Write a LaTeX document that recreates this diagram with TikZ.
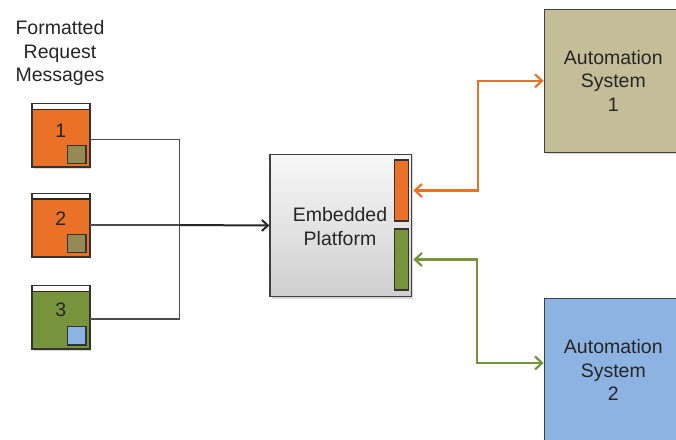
\documentclass[tikz,border=0pt]{standalone}
\usepackage{fontspec}
\setmainfont{Liberation Sans}
\usetikzlibrary{shadows,arrows.meta}
\definecolor{morange}{HTML}{E97228}
\definecolor{mgreen}{HTML}{77933C}
\definecolor{molive}{HTML}{948A54}
\definecolor{mblue}{HTML}{8DB3E2}
\definecolor{mtan}{HTML}{C4BD97}
\definecolor{txt}{HTML}{262626}
\tikzset{
  lbl/.style={font=\fontsize{19.5}{23.5}\selectfont, text=txt, align=center},
  msgbox/.style={draw=black!80, line width=1.3pt, minimum width=56.6pt, minimum height=62.4pt, inner sep=0pt,
     drop shadow={opacity=0.3, shadow xshift=1.5pt, shadow yshift=-2pt}},
  tag/.style={draw=black!80, line width=1.1pt, minimum width=18.3pt, minimum height=18.3pt, inner sep=0pt},
  sysbox/.style={draw=black!75, line width=1.3pt, minimum width=138pt, minimum height=143pt, inner sep=0pt,
     drop shadow={opacity=0.3, shadow xshift=1.5pt, shadow yshift=-2pt}},
  bar/.style={draw=black!80, line width=1.1pt, minimum width=14pt, minimum height=61pt, inner sep=0pt},
  wire/.style={draw=black!70, line width=1.4pt},
  bidir/.style={line width=2.2pt, {Straight Barb[length=7pt,width=13pt]}-{Straight Barb[length=7pt,width=13pt]}},
}
\begin{document}
\begin{tikzpicture}[x=1pt,y=-1pt]
\clip (0,0) rectangle (676,439);
\useasboundingbox (0,0) rectangle (676,439);
\fill[white] (0,0) rectangle (676,439);

\node[lbl] (title) at (60,53) {Formatted\\Request\\Messages};

% message boxes
\node[msgbox, fill=morange] (m1) at (61,135.5) {};
\node[msgbox, fill=morange] (m2) at (61,225) {};
\node[msgbox, fill=mgreen] (m3) at (61,317.5) {};
\foreach \m in {m1,m2,m3}{
  \fill[white] (\m.north west) rectangle ([yshift=-5.7pt]\m.north east);
  \draw[black!70!brown, line width=1.5pt] ([yshift=-5.7pt]\m.north west) -- ([yshift=-5.7pt]\m.north east);
  \draw[black!80, line width=1.3pt] (\m.north west) rectangle (\m.south east);
}
\node[lbl] (n1) at (60.7,131) {1};
\node[lbl] (n2) at (60.7,219) {2};
\node[lbl] (n3) at (60.7,310) {3};
\node[tag, fill=molive] (t1) at (76.8,154.2) {};
\node[tag, fill=molive] (t2) at (76.8,243.3) {};
\node[tag, fill=mblue] (t3) at (76.8,335.8) {};

% platform
\node[draw=black!75, line width=1.3pt, minimum width=141.7pt, minimum height=142.4pt, inner sep=0pt,
      top color=gray!6, bottom color=gray!38,
      drop shadow={opacity=0.3, shadow xshift=1.5pt, shadow yshift=-2pt}] (P) at (340.85,225.5) {};
\node[lbl] (ptext) at (340,226.7) {Embedded\\Platform};
\node[bar, fill=morange] (ob) at (401.3,190.5) {};
\node[bar, fill=mgreen] (gb) at (401.3,259.5) {};

% systems
\node[sysbox, fill=mtan] (S1) at (613.3,80.8) {};
\node[lbl] (s1t) at (613.3,80.5) {Automation\\System\\1};
\node[sysbox, fill=mblue] (S2) at (613.3,370) {};
\node[lbl] (s2t) at (613.3,370) {Automation\\System\\2};

% wires
\coordinate (J) at (179.3,225);
\draw[wire] ([yshift=-3.8pt]m1.east) -| (J);
\draw[wire] ([yshift=-1.5pt]m3.east) -| (J);
\draw[wire] (m2.east) -- (J);
\draw[draw=black!85, line width=2pt, -{Straight Barb[length=6pt,width=11pt]}] (J) -- (P.west);

% bidirectional links
\coordinate (k1) at (477.7,0);
\coordinate (k2) at (476.7,0);
\draw[bidir, morange] ([xshift=1pt]ob.east -| P.east) -- (ob.east -| k1) |- (S1.west);
\draw[bidir, mgreen] ([xshift=1pt]gb.east -| P.east) -- (gb.east -| k2) |- ([yshift=7pt]S2.west);
\end{tikzpicture}
\end{document}
